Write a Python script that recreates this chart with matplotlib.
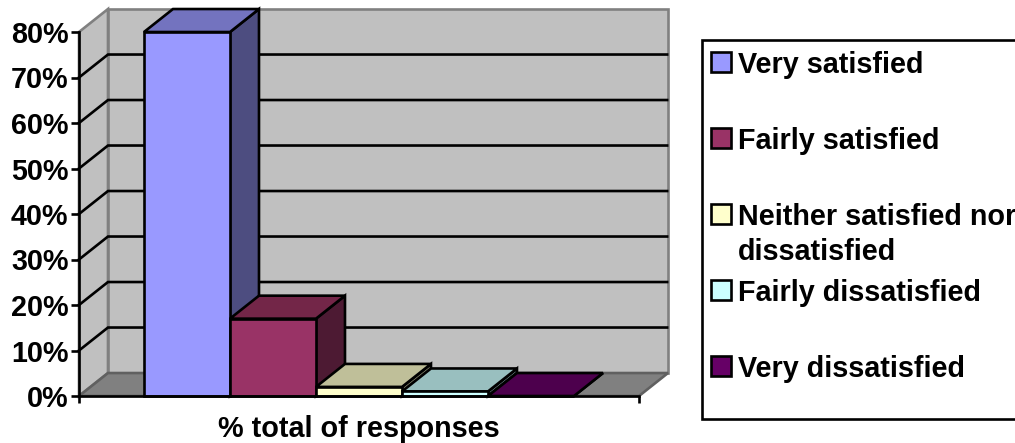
import numpy as np
import matplotlib
matplotlib.use("Agg")
import matplotlib.pyplot as plt
from matplotlib.patches import Polygon, Rectangle

categories = ["Very satisfied", "Fairly satisfied", "Neither satisfied nor\ndissatisfied",
              "Fairly dissatisfied", "Very dissatisfied"]
values = [80, 17, 2, 1, 0]
y_ticks = [0, 10, 20, 30, 40, 50, 60, 70, 80]
x_title = "% total of responses"

front_colors = ["#9999FF", "#993366", "#FFFFCC", "#CCFFFF", "#660066"]
top_colors = ["#7373BF", "#732648", "#BFBF99", "#99BFBF", "#4D004D"]
side_colors = ["#4D4D80", "#4D1A33", "#80806A", "#668080", "#330033"]

plt.rcParams["font.family"] = ["Liberation Sans", "DejaVu Sans"]
plt.rcParams["font.weight"] = "bold"
plt.rcParams["font.size"] = 20.7

W, H = 1015, 443
LW = 1.9

# oblique depth of the box, in data units
DX = 0.337
DY = 5.05
GAP = 0.756

fig = plt.figure(figsize=(W / 100, H / 100), dpi=100)
ax = fig.add_axes([79 / W, (H - 396) / H, 560 / W, 364 / H])
x0, x1 = -GAP, len(values) + GAP
ax.set_xlim(x0, x1)
ax.set_ylim(0, 80)


def poly(pts, color, edge="black", lw=LW, z=2):
    ax.add_patch(Polygon(pts, closed=True, facecolor=color, edgecolor=edge, linewidth=lw,
                         joinstyle="miter", clip_on=False, zorder=z))


# walls and floor
ymax = y_ticks[-1]
poly([(x0, 0), (x0 + DX, DY), (x0 + DX, ymax + DY), (x0, ymax)], "#C0C0C0", "#808080", z=1)
poly([(x0 + DX, DY), (x1 + DX, DY), (x1 + DX, ymax + DY), (x0 + DX, ymax + DY)], "#C0C0C0", "#808080", z=1)
poly([(x0, 0), (x1, 0), (x1 + DX, DY), (x0 + DX, DY)], "#808080", "#606060", z=1)

# gridlines run along the side wall and then the back wall
for t in y_ticks[1:-1]:
    ax.plot([x0, x0 + DX, x1 + DX - 0.01], [t, t + DY, t + DY], color="black", lw=LW,
            clip_on=False, zorder=1.5, solid_joinstyle="miter")

# bars, left to right so each one overlaps the side of the previous
for i, v in enumerate(values):
    l, r = i, i + 1
    poly([(r, 0), (r + DX, DY), (r + DX, v + DY), (r, v)], side_colors[i], z=2 + i)
    poly([(l, v), (r, v), (r + DX, v + DY), (l + DX, v + DY)], top_colors[i], z=2 + i)
    poly([(l, 0), (r, 0), (r, v), (l, v)], front_colors[i], z=2 + i)

for s in ["top", "right"]:
    ax.spines[s].set_visible(False)
for s in ["left", "bottom"]:
    ax.spines[s].set_linewidth(LW)
    ax.spines[s].set_zorder(10)
ax.patch.set_visible(False)

ax.set_yticks(y_ticks)
ax.set_yticklabels([f"{t}%" for t in y_ticks])
ax.set_xticks([x0, x1])
ax.set_xticklabels([])
ax.tick_params(axis="y", length=6, width=LW, pad=1.5)
ax.tick_params(axis="x", length=5, width=LW)
ax.set_xlabel(x_title, fontweight="bold", labelpad=5)

# legend box, laid out in pixels because the rows are unevenly filled
lg = fig.add_axes([0, 0, 1, 1])
lg.set_xlim(0, W)
lg.set_ylim(H, 0)
lg.axis("off")
lg.add_patch(Rectangle((702, 40), 330, 379, facecolor="white", edgecolor="black", linewidth=LW))
for i, name in enumerate(categories):
    top = 52 + i * 76
    lg.add_patch(Rectangle((711, top), 20, 20, facecolor=front_colors[i], edgecolor="black", linewidth=LW))
    lg.text(738, top - 1, name, va="top", ha="left", fontsize=20.7, fontweight="bold", linespacing=1.3)

fig.savefig("out.png", dpi=100)
